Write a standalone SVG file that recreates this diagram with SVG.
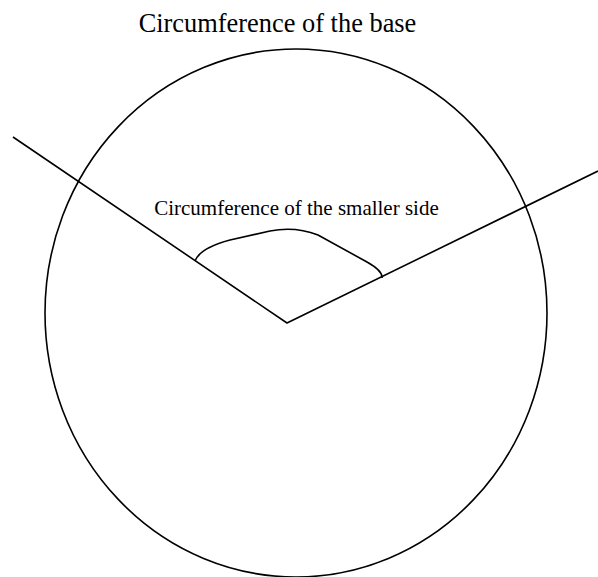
<svg xmlns="http://www.w3.org/2000/svg" width="598" height="577" viewBox="0 0 598 577">
<style>
.ln{fill:none;stroke:#000;stroke-width:1.6;stroke-linejoin:round}
.t{font-family:"Liberation Serif","Times New Roman",serif;fill:#000}
</style>
<rect width="598" height="577" fill="#fff"/>
<g id="base-circle">
<ellipse class="ln" cx="296" cy="313" rx="251" ry="264"/>
<text class="t" x="277.5" y="32" font-size="26.4" text-anchor="middle">Circumference of the base</text>
</g>
<g id="connectors">
<polyline class="ln" points="13,137 287,323 598,171"/>
</g>
<g id="smaller-side">
<path class="ln" d="M195,261 Q200,248 230,240 L270,231 Q295,226 318,235 L367,262 Q383,271 382,278"/>
<text class="t" x="296.5" y="215" font-size="21" text-anchor="middle">Circumference of the smaller side</text>
</g>
</svg>
